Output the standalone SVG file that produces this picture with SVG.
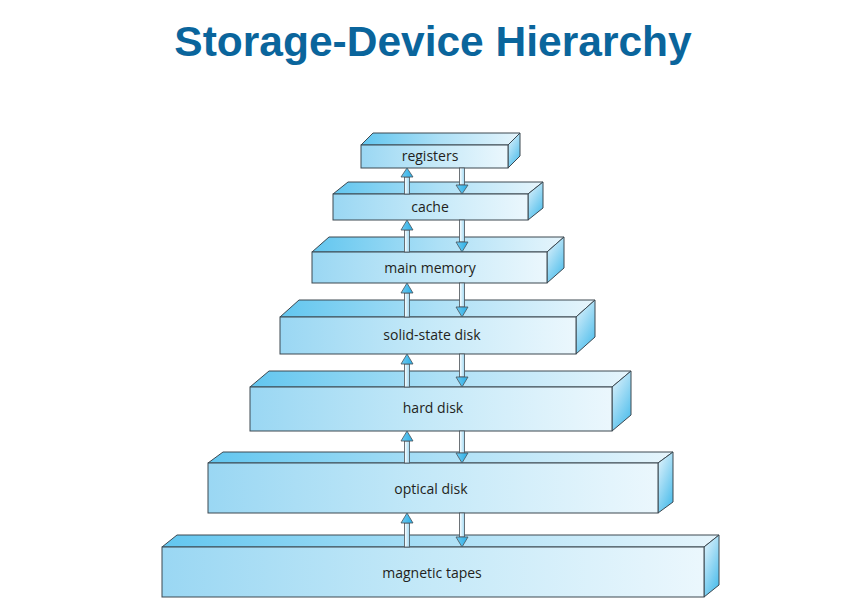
<svg xmlns="http://www.w3.org/2000/svg" width="864" height="598" viewBox="0 0 864 598">
<defs>
<linearGradient id="gFront" x1="0" y1="0" x2="1" y2="0">
<stop offset="0" stop-color="#9ad7f3"/>
<stop offset="0.5" stop-color="#c5e9f8"/>
<stop offset="1" stop-color="#ebf7fd"/>
</linearGradient>
<linearGradient id="gTop" x1="0" y1="0" x2="1" y2="0">
<stop offset="0" stop-color="#62c6ef"/>
<stop offset="0.5" stop-color="#ade0f6"/>
<stop offset="1" stop-color="#e6f5fc"/>
</linearGradient>
<linearGradient id="gSide" x1="0" y1="0" x2="0.6" y2="1">
<stop offset="0" stop-color="#eaf6fd"/>
<stop offset="1" stop-color="#55c0ec"/>
</linearGradient>
<linearGradient id="gShaft" x1="0" y1="0" x2="1" y2="0">
<stop offset="0" stop-color="#ffffff"/>
<stop offset="1" stop-color="#9fd8f2"/>
</linearGradient>
<linearGradient id="gHead" x1="0" y1="0" x2="1" y2="0">
<stop offset="0" stop-color="#6fcaf1"/>
<stop offset="1" stop-color="#2aaee5"/>
</linearGradient>
</defs>
<style>
.front{fill:url(#gFront);stroke:#3c4850;stroke-width:1}
.top{fill:url(#gTop);stroke:#3c4850;stroke-width:1;stroke-linejoin:round}
.side{fill:url(#gSide);stroke:#3c4850;stroke-width:1;stroke-linejoin:round}
.lbl{font-family:"Open Sans","Noto Sans","Liberation Sans",sans-serif;font-size:14px;fill:#231f20;text-anchor:middle}
.shaft{fill:url(#gShaft);stroke:#4a5258;stroke-width:0.8}
.head{fill:url(#gHead);stroke:#4a5258;stroke-width:0.8;stroke-linejoin:round}
.title{font-family:"Liberation Sans",Arial,sans-serif;font-weight:bold;font-size:42.5px;fill:#0a659c;text-anchor:middle}
</style>
<rect width="864" height="598" fill="#ffffff"/>
<text class="title" x="433" y="56">Storage-Device Hierarchy</text>

<g id="magnetic-tapes">
<polygon class="top" points="162,547 177,535 719,535 704,547"/>
<polygon class="side" points="704,547 719,535 719,585 704,597"/>
<rect class="front" x="162" y="547" width="542" height="50"/>
<text class="lbl" x="432" y="578">magnetic tapes</text>
</g>
<g id="optical-disk">
<polygon class="top" points="208,463 223,452 673,452 658,463"/>
<polygon class="side" points="658,463 673,452 673,502 658,513"/>
<rect class="front" x="208" y="463" width="450" height="50"/>
<text class="lbl" x="431" y="494">optical disk</text>
</g>
<g id="hard-disk">
<polygon class="top" points="250,387 269,371 631,371 612,387"/>
<polygon class="side" points="612,387 631,371 631,415 612,431"/>
<rect class="front" x="250" y="387" width="362" height="44"/>
<text class="lbl" x="433" y="413">hard disk</text>
</g>
<g id="solid-state-disk">
<polygon class="top" points="280,317 299,300 595,300 576,317"/>
<polygon class="side" points="576,317 595,300 595,337 576,354"/>
<rect class="front" x="280" y="317" width="296" height="37"/>
<text class="lbl" x="432" y="340">solid-state disk</text>
</g>
<g id="main-memory">
<polygon class="top" points="312,252 329,237 564,237 547,252"/>
<polygon class="side" points="547,252 564,237 564,268 547,283"/>
<rect class="front" x="312" y="252" width="235" height="31"/>
<text class="lbl" x="430" y="273">main memory</text>
</g>
<g id="cache">
<polygon class="top" points="333,194 348,182 543,182 528,194"/>
<polygon class="side" points="528,194 543,182 543,208 528,220"/>
<rect class="front" x="333" y="194" width="195" height="26"/>
<text class="lbl" x="430" y="212">cache</text>
</g>
<g id="registers">
<polygon class="top" points="361,145 373,133 520,133 508,145"/>
<polygon class="side" points="508,145 520,133 520,156 508,168"/>
<rect class="front" x="361" y="145" width="147" height="23"/>
<text class="lbl" x="430" y="161">registers</text>
</g>

<g id="connectors">
<rect class="shaft" x="404.5" y="177" width="5" height="17"/>
<polygon class="head" points="407,168 413,177 401,177"/>
<rect class="shaft" x="459.5" y="168" width="5" height="17"/>
<polygon class="head" points="456,185 468,185 462,194"/>
<rect class="shaft" x="404.5" y="230" width="5" height="22"/>
<polygon class="head" points="407,220 413,230 401,230"/>
<rect class="shaft" x="459.5" y="220" width="5" height="22"/>
<polygon class="head" points="456,242 468,242 462,252"/>
<rect class="shaft" x="404.5" y="293" width="5" height="24"/>
<polygon class="head" points="407,283 413,293 401,293"/>
<rect class="shaft" x="459.5" y="283" width="5" height="24"/>
<polygon class="head" points="456,307 468,307 462,317"/>
<rect class="shaft" x="404.5" y="364" width="5" height="23"/>
<polygon class="head" points="407,354 413,364 401,364"/>
<rect class="shaft" x="459.5" y="354" width="5" height="23"/>
<polygon class="head" points="456,377 468,377 462,387"/>
<rect class="shaft" x="404.5" y="441" width="5" height="22"/>
<polygon class="head" points="407,431 413,441 401,441"/>
<rect class="shaft" x="459.5" y="431" width="5" height="22"/>
<polygon class="head" points="456,453 468,453 462,463"/>
<rect class="shaft" x="404.5" y="523" width="5" height="24"/>
<polygon class="head" points="407,513 413,523 401,523"/>
<rect class="shaft" x="459.5" y="513" width="5" height="24"/>
<polygon class="head" points="456,537 468,537 462,547"/>
</g>
</svg>
